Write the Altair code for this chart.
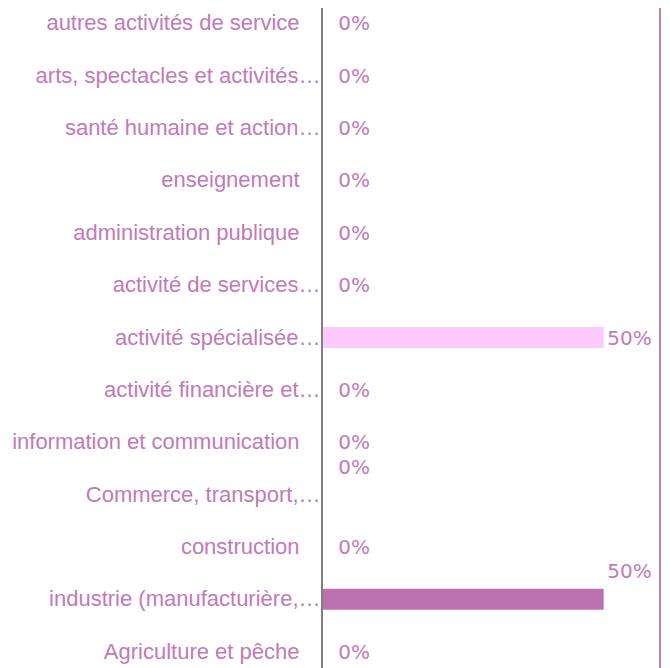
import altair as alt
import pandas as pd

categories = [
    "autres activités de service",
    "arts, spectacles et activités…",
    "santé humaine et action…",
    "enseignement",
    "administration publique",
    "activité de services…",
    "activité spécialisée…",
    "activité financière et…",
    "information et communication",
    "Commerce, transport,…",
    "construction",
    "industrie (manufacturière,…",
    "Agriculture et pêche",
]
shares = [0, 0, 0, 0, 0, 0, 0.5, 0, 0, 0, 0, 0.5, 0]

bar_colors = [
    "#e7b3de", "#e7b3de", "#e7b3de", "#e7b3de", "#e7b3de", "#e7b3de",
    "#fccbfc", "#e7b3de", "#e7b3de", "#e7b3de", "#e7b3de", "#bc72b0", "#e7b3de",
]
raised = ["Commerce, transport,…", "industrie (manufacturière,…"]

TEXT = "#c27ab8"

df = pd.DataFrame({"cat": categories, "share": shares})

x_enc = alt.X("share:Q", scale=alt.Scale(domain=[0, 0.6], nice=False, zero=True), axis=None)
y_enc = alt.Y(
    "cat:N",
    sort=categories,
    scale=alt.Scale(domain=categories, range=[5, 654], paddingInner=0.6, paddingOuter=0),
    axis=alt.Axis(
        title=None,
        domain=False,
        ticks=False,
        grid=False,
        labelFont="Liberation Sans",
        labelFontSize=22,
        labelColor=TEXT,
        labelLimit=400,
        labelBaseline="middle",
        labelPadding={"condition": {"test": "indexof(datum.label, '…') >= 0", "value": 2}, "value": 23},
    ),
)

bars = alt.Chart().mark_bar().encode(
    x=x_enc,
    y=y_enc,
    color=alt.Color("cat:N", scale=alt.Scale(domain=categories, range=bar_colors), legend=None),
)

axis_line = alt.Chart().mark_rule(color="#808080", strokeWidth=1.5).encode(x=alt.datum(0))
right_line = alt.Chart().mark_rule(color=TEXT, strokeWidth=2).encode(x=alt.datum(0.6))

text_props = dict(align="right", baseline="middle", dx=48, font="DejaVu Sans", fontSize=20, color=TEXT)

labels = alt.Chart().mark_text(dy=1, **text_props).encode(
    x="share:Q", y=alt.Y("cat:N", sort=categories), text=alt.Text("share:Q", format=".0%")
).transform_filter(alt.FieldOneOfPredicate(field="cat", oneOf=[c for c in categories if c not in raised]))

labels_up = alt.Chart().mark_text(dy=-27, **text_props).encode(
    x="share:Q", y=alt.Y("cat:N", sort=categories), text=alt.Text("share:Q", format=".0%")
).transform_filter(alt.FieldOneOfPredicate(field="cat", oneOf=raised))

chart = alt.layer(bars, axis_line, right_line, labels, labels_up, data=df).properties(
    width=338,
    height=660,
    padding={"left": 314, "top": 0, "right": 2, "bottom": 0},
    autosize="none",
).configure_view(stroke=None)

chart.save("out.html", embed_options={"renderer": "svg", "actions": False})
